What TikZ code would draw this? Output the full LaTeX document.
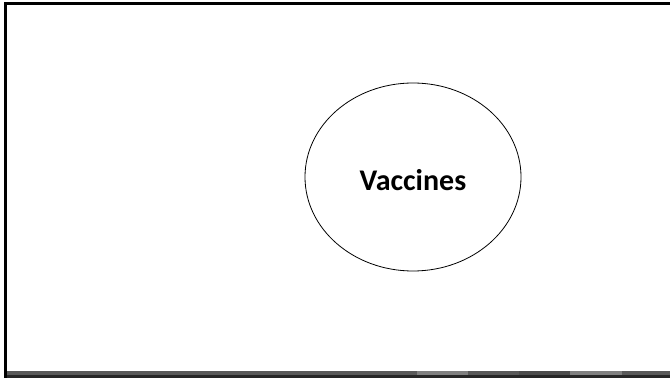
\documentclass[tikz,border=0pt]{standalone}
\usepackage{fontspec}
\setmainfont{Carlito}
\usetikzlibrary{shapes.geometric}
\begin{document}
\begin{tikzpicture}[x=1pt,y=1pt,
  frameline/.style={fill=black,draw=none},
  bubble/.style={ellipse,draw=black,line width=0.8pt,minimum width=216pt,minimum height=188pt,inner sep=0pt},
  label/.style={font=\bfseries\fontsize{30}{34}\selectfont,inner sep=0pt}]
\useasboundingbox (0,0) rectangle (670,378);
\fill[white] (0,0) rectangle (670,378);
% frame
\fill[black!75] (4,372.5) rectangle (670,376);
\fill[frameline] (4,372.5) rectangle (670,375.5);
\fill[frameline] (4,0) rectangle (7,376);
% bottom bar
\fill[black!65] (7,3) rectangle (670,7.5);
\fill[black!50] (417,3) rectangle (468,7.5);
\fill[black!70] (519,3) rectangle (570,7.5);
\fill[black!50] (570,3) rectangle (622,7.5);
\fill[black!85] (7,0) rectangle (670,3);
% ellipse
\node[bubble] (vac) at (413,201) {};
\node[label] (vactext) at (413,198) {Vaccines};
\end{tikzpicture}
\end{document}
